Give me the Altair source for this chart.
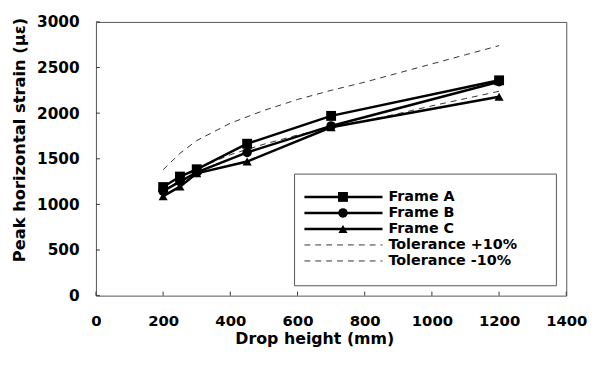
import altair as alt
import pandas as pd

# ---- data ----
heights = [200, 250, 300, 450, 700, 1200]
frame_a = [1190, 1305, 1385, 1665, 1970, 2360]
frame_b = [1145, 1250, 1350, 1570, 1860, 2345]
frame_c = [1090, 1195, 1340, 1470, 1845, 2180]

tol_heights = [200, 250, 300, 400, 500, 600, 700, 800, 900, 1000, 1100, 1200]
tol_plus = [1380, 1560, 1700, 1890, 2030, 2150, 2250, 2340, 2440, 2540, 2640, 2740]
tol_minus = [1130, 1275, 1390, 1545, 1660, 1760, 1840, 1915, 1995, 2080, 2160, 2240]

frame_names = ["Frame A", "Frame B", "Frame C"]
tol_names = ["Tolerance +10%", "Tolerance -10%"]
legend_labels = frame_names + tol_names

x_ticks = [0, 200, 400, 600, 800, 1000, 1200, 1400]
y_ticks = [0, 500, 1000, 1500, 2000, 2500, 3000]

# ---- tables ----
frames_df = pd.DataFrame(
    [(n, h, v) for n, vals in zip(frame_names, [frame_a, frame_b, frame_c])
     for h, v in zip(heights, vals)],
    columns=["series", "height", "strain"])
tol_df = pd.DataFrame(
    [(n, h, v) for n, vals in zip(tol_names, [tol_plus, tol_minus])
     for h, v in zip(tol_heights, vals)],
    columns=["series", "height", "strain"])
xt_df = pd.DataFrame({"height": x_ticks})
yt_df = pd.DataFrame({"strain": y_ticks})
leg_df = pd.DataFrame({"series": legend_labels})

FONT = "DejaVu Sans"
W, H = 476, 277

xaxis = alt.Axis(title="Drop height (mm)", values=x_ticks, format="d", labelOverlap=False,
                 labelFlush=False, domain=False, ticks=False,
                 grid=False, labelFont=FONT, labelFontWeight="bold", labelFontSize=15,
                 labelColor="black", labelPadding=18, titleFont=FONT,
                 titleFontWeight="bold", titleFontSize=16, titleColor="black",
                 titleX=221, titleY=48, titleAlign="center", titleBaseline="alphabetic")
yaxis = alt.Axis(title="Peak horizontal strain (με)", values=y_ticks, format="d",
                 labelOverlap=False, labelFlush=False, domain=False,
                 ticks=False, grid=False, labelFont=FONT, labelFontWeight="bold",
                 labelFontSize=15.5, labelColor="black", labelPadding=17,
                 titleFont=FONT, titleFontWeight="bold", titleFontSize=16.5,
                 titleColor="black", titleX=-72, titleY=119, titleAlign="center",
                 titleBaseline="alphabetic")

X = alt.X("height:Q", scale=alt.Scale(domain=[0, 1400]), axis=xaxis)
Y = alt.Y("strain:Q", scale=alt.Scale(domain=[0, 3000]), axis=yaxis)
shape_scale = alt.Scale(domain=frame_names, range=["square", "circle", "triangle-up"])
size_scale = alt.Scale(domain=frame_names, range=[100, 85, 120])

tol_lines = alt.Chart(tol_df).mark_line(strokeDash=[6, 5], strokeWidth=1, color="#333").encode(
    x=X, y=Y, detail="series:N")
frame_lines = alt.Chart(frames_df).mark_line(strokeWidth=2.5, color="black").encode(
    x=X, y=Y, detail="series:N")
frame_pts = alt.Chart(frames_df).mark_point(filled=True, color="black", opacity=1).encode(
    x=X, y=Y,
    shape=alt.Shape("series:N", scale=shape_scale, legend=None),
    size=alt.Size("series:N", scale=size_scale, legend=None))
xticks = alt.Chart(xt_df).mark_rule(color="#333", strokeWidth=1).encode(
    x=X, y=alt.value(H), y2=alt.value(H - 4))
yticks = alt.Chart(yt_df).mark_rule(color="#333", strokeWidth=1).encode(
    y=Y, x=alt.value(0), x2=alt.value(4))

main = alt.layer(tol_lines, frame_lines, frame_pts, xticks, yticks)

LY = alt.Y("series:N", scale=alt.Scale(domain=legend_labels, range=[169, 250], padding=0),
           axis=None)
box = alt.Chart(pd.DataFrame({"a": [0]})).mark_rect(
    fill="white", stroke="#555", strokeWidth=1).encode(
    x=alt.value(201), x2=alt.value(466), y=alt.value(154), y2=alt.value(267))
leg_frame_lines = alt.Chart(leg_df).transform_filter(
    alt.FieldOneOfPredicate(field="series", oneOf=frame_names)).mark_rule(
    strokeWidth=2.5, color="black").encode(x=alt.value(211), x2=alt.value(290), y=LY)
leg_tol_lines = alt.Chart(leg_df).transform_filter(
    alt.FieldOneOfPredicate(field="series", oneOf=tol_names)).mark_rule(
    strokeWidth=1, color="#333", strokeDash=[6, 5]).encode(
    x=alt.value(211), x2=alt.value(290), y=LY)
leg_pts = alt.Chart(leg_df).transform_filter(
    alt.FieldOneOfPredicate(field="series", oneOf=frame_names)).mark_point(
    filled=True, color="black", opacity=1).encode(
    x=alt.value(250), y=LY,
    shape=alt.Shape("series:N", scale=shape_scale, legend=None),
    size=alt.Size("series:N", scale=size_scale, legend=None))
leg_text = alt.Chart(leg_df).mark_text(
    align="left", baseline="middle", font=FONT, fontWeight="bold", fontSize=14.5,
    color="black").encode(x=alt.value(296), y=LY, text="series:N")

legend = alt.layer(box, leg_frame_lines, leg_tol_lines, leg_pts, leg_text)

chart = alt.layer(main, legend).resolve_scale(y="independent").properties(
    width=W, height=H,
    autosize=alt.AutoSizeParams(type="none"),
    padding={"left": 89, "top": 12, "right": 24, "bottom": 60},
    background="white",
).configure_view(stroke="#555", strokeWidth=1)

chart.save("out.html", embed_options={"renderer": "svg", "actions": False})
